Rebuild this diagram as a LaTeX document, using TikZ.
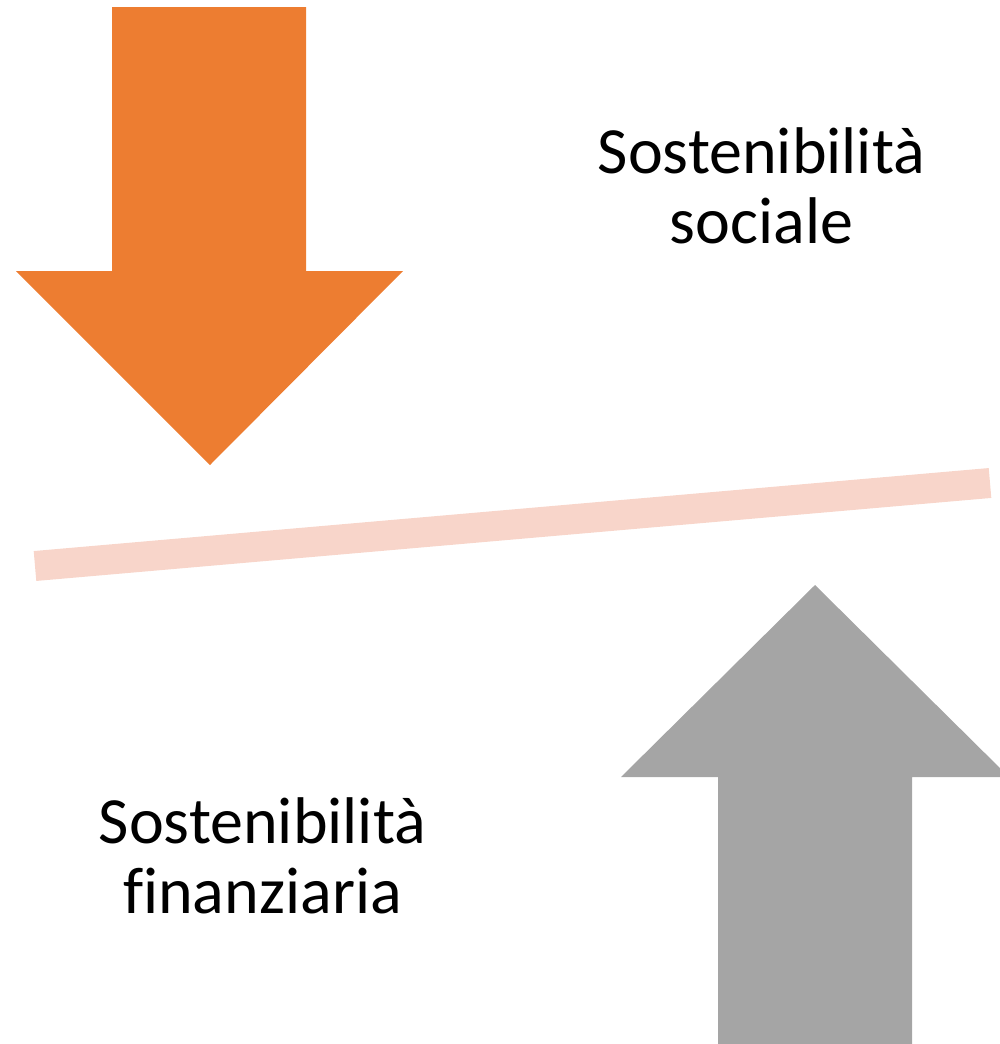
\documentclass[tikz,border=0pt]{standalone}
\usepackage{fontspec}
\setmainfont{Carlito}[Ligatures=NoCommon]
\definecolor{orangeA}{HTML}{ED7D31}
\definecolor{grayA}{HTML}{A5A5A5}
\definecolor{pinkA}{HTML}{F8D5CA}
\begin{document}
\begin{tikzpicture}[x=1pt,y=-1pt,
  lbl/.style={font=\fontsize{66}{70}\selectfont, inner sep=0pt, anchor=base}]
\useasboundingbox (0,0) rectangle (1000,1044);
% orange arrow down
\fill[orangeA] (112,7) -- (306,7) -- (306,271) -- (403,271) -- (210,465) -- (16,271) -- (112,271) -- cycle;
% gray arrow up
\fill[grayA] (718,1044) -- (718,777) -- (621,777) -- (815,585) -- (1009,777) -- (912,777) -- (912,1044) -- cycle;
% balance line
\coordinate (L) at (35,566);
\coordinate (R) at (990,483);
\draw[pinkA, line width=30pt] (L) -- (R);
\node[lbl] (soc1) at (761.5,173) {Sostenibilità};
\node[lbl] (soc2) at (761.5,243) {sociale};
\node[lbl] (fin1) at (262.5,843) {Sostenibilità};
\node[lbl] (fin2) at (262.5,913) {finanziaria};
\end{tikzpicture}
\end{document}
